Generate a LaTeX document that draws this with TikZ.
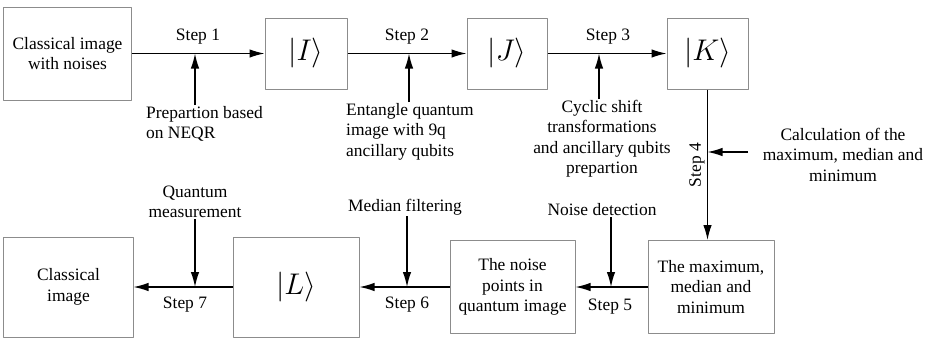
\documentclass[tikz,border=0pt]{standalone}
\usepackage{fix-cm}
\usepackage{fontspec}
\setmainfont{Liberation Serif}
\usetikzlibrary{arrows.meta}
\begin{document}
\begin{tikzpicture}[x=1bp,y=-1bp,>={Latex[length=15bp,width=8.5bp]},line join=bevel,
  every node/.style={font=\fontsize{17.5}{20.5}\selectfont},
  box/.style={draw=black!45,line width=1bp,inner sep=0pt,align=center},
  ket/.style={font=\fontsize{30}{32}\selectfont},
  note/.style={align=center,inner sep=1bp},
  flow/.style={black,line width=1.3bp,->}]
\useasboundingbox (0,0) rectangle (935,339);
%%
\node (node_0) at (67.5,53.5) [box,minimum width=127bp,minimum height=93bp] {Classical image\\with noises};
  \node (node_1) at (306,53.5) [box,ket,minimum width=82bp,minimum height=71bp] {$|I\rangle$};
  \node (node_2) at (507,53.5) [box,ket,minimum width=80bp,minimum height=71bp] {$|J\rangle$};
  \node (node_3) at (707.5,53.5) [box,ket,minimum width=81bp,minimum height=71bp] {$|K\rangle$};
  \node (node_4) at (711,287) [box,minimum width=126bp,minimum height=93bp] {The maximum,\\median and\\minimum};
  \node (node_5) at (512.5,287) [box,minimum width=125bp,minimum height=93bp] {The noise\\points in\\quantum image};
  \node (node_6) at (296,287) [box,ket,minimum width=126bp,minimum height=100bp] {$|L\rangle$};
  \node (node_7) at (68.5,287) [box,minimum width=129bp,minimum height=100bp] {Classical\\image};
%
  \draw [flow] (node_0) -- (node_1);
  \draw [flow] (node_1) -- (node_2);
  \draw [flow] (node_2) -- (node_3);
  \draw [flow] (node_3.south) -- (node_3.south |- node_4.north);
  \draw [flow] (node_4) -- (node_5);
  \draw [flow] (node_5) -- (node_6);
  \draw [flow] (node_6) -- (node_7);
%
  \node (step_1) at (198,37) [note] {Step 1};
  \node (step_2) at (407,37) [note] {Step 2};
  \node (step_3) at (608,37) [note] {Step 3};
  \node (step_4) at (697,165) [note,rotate=90] {Step 4};
  \node (step_5) at (610,307) [note] {Step 5};
  \node (step_6) at (407,305) [note] {Step 6};
  \node (step_7) at (185,305) [note] {Step 7};
%
  \coordinate (join_1) at (195,53.5);
  \coordinate (join_2) at (409,53.5);
  \coordinate (join_3) at (599,53.5);
  \coordinate (tail_4) at (748,152);
  \coordinate (join_4) at (node_3.south |- tail_4);
  \coordinate (join_5) at (611,287);
  \coordinate (join_6) at (407,287);
  \coordinate (join_7) at (195,287);
  \node (note_1) at (145,105) [note,anchor=north west,align=left] {Prepartion based\\on NEQR};
  \node (note_2) at (345,102) [note,anchor=north west,align=left] {Entangle quantum\\image with 9q\\ancillary qubits};
  \node (note_3) at (602,99) [note,anchor=north] {Cyclic shift\\transformations\\and ancillary qubits\\prepartion};
  \node (note_4) at (843,127) [note,anchor=north] {Calculation of the\\maximum, median and\\minimum};
  \node (note_5) at (602,210) [note] {Noise detection};
  \node (note_6) at (405,207) [note] {Median filtering};
  \node (note_7) at (195,202) [note] {Quantum\\measurement};
  \draw [flow] (note_1.north -| join_1) -- (join_1);
  \draw [flow] (note_2.north -| join_2) -- (join_2);
  \draw [flow] (note_3.north -| join_3) -- (join_3);
  \draw [flow] (tail_4) -- (join_4);
  \draw [flow] (note_5.south -| join_5) -- (join_5);
  \draw [flow] (note_6.south -| join_6) -- (join_6);
  \draw [flow] (note_7.south -| join_7) -- (join_7);
%
\end{tikzpicture}
\end{document}
